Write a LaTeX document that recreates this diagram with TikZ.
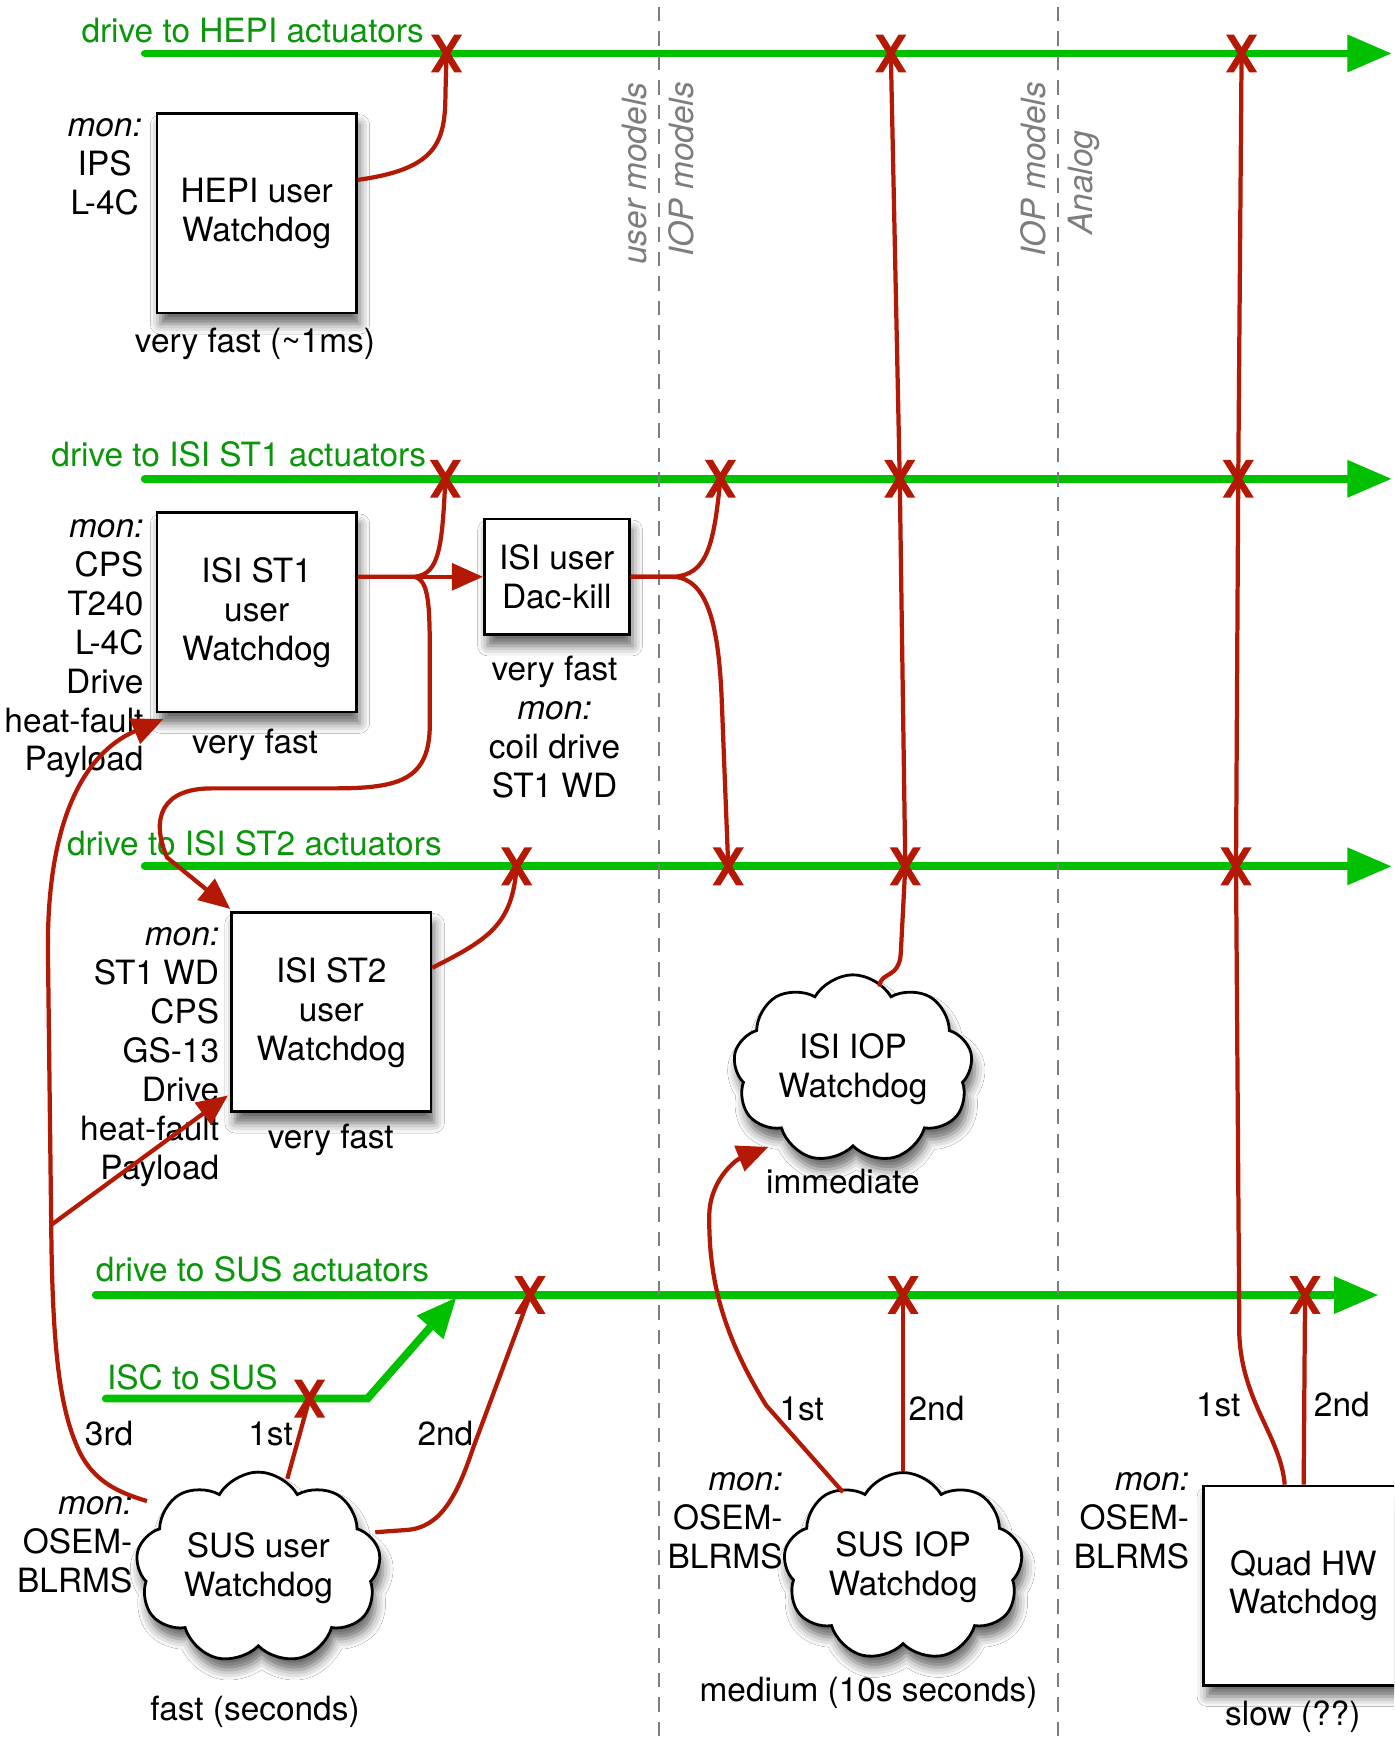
\documentclass[tikz,border=0pt]{standalone}
\usepackage{fontspec}
\setmainfont{TeX Gyre Heros}
\usetikzlibrary{shapes.symbols,shadows.blur,arrows.meta,calc}
\definecolor{grn}{RGB}{0,192,0}
\definecolor{grntext}{RGB}{10,150,10}
\definecolor{wdred}{RGB}{180,25,5}
\definecolor{divgray}{RGB}{125,125,125}
\begin{document}
\begin{tikzpicture}[x=1pt,y=-1pt,
  txt/.style={font=\fontsize{30}{35}\selectfont, inner sep=0pt, text=black},
  grtxt/.style={txt, text=grntext, anchor=base west},
  divtxt/.style={font=\fontsize{30}{35}\selectfont\itshape, inner sep=0pt, text=divgray, rotate=90},
  wdshadow/.style={blur shadow={shadow xshift=3pt, shadow yshift=-10pt, shadow blur radius=9pt, shadow opacity=60}},
  wdbox/.style={txt, draw=black, line width=2.5pt, fill=white, minimum width=179pt, minimum height=179pt, align=center, wdshadow},
  wdcloud/.style={txt, cloud, cloud puffs=9, cloud puff arc=120, aspect=1.35, draw=black, line width=2.5pt, fill=white, align=center, minimum width=215pt, minimum height=158pt, wdshadow},
  greenl/.style={grn, line width=7pt, line cap=round},
  greenarrow/.style={-{Triangle[length=40pt,width=32pt]}},
  redl/.style={wdred, line width=3.8pt},
  redarrow/.style={-{Triangle[length=28pt,width=24pt]}},
  divline/.style={divgray, line width=2pt, dash pattern=on 13pt off 9pt},
  xm/.pic={\fill[wdred] (-14,-17)--(-7,-17)--(14,17)--(7,17)--cycle;
           \fill[wdred] (7,-17)--(14,-17)--(-7,17)--(-14,17)--cycle;}
]
\fill[white] (0,0) rectangle (1252,1568);
\path[use as bounding box] (0,0) rectangle (1252,1568);
\clip (0,0) rectangle (1252,1568);

% green actuator lines
\coordinate (hS) at (130,48);   \coordinate (hE) at (1250,48);
\coordinate (s1S) at (130,430); \coordinate (s1E) at (1250,430);
\coordinate (s2S) at (130,778); \coordinate (s2E) at (1250,778);
\coordinate (suS) at (86,1163); \coordinate (suE) at (1238,1163);
\coordinate (iscS) at (95,1256); \coordinate (iscK) at (330,1256); \coordinate (iscE) at (410,1165);
\draw[greenl, greenarrow] (hS) -- (hE);
\draw[greenl, greenarrow] (s1S) -- (s1E);
\draw[greenl, greenarrow] (s2S) -- (s2E);
\draw[greenl, greenarrow] (suS) -- (suE);
\draw[greenl, line join=miter, -{Triangle[length=36pt,width=30pt]}] (iscS) -- (iscK) -- (iscE);

% dividers
\coordinate (d1t) at (592,6); \coordinate (d1b) at (592,1568);
\coordinate (d2t) at (950,6); \coordinate (d2b) at (950,1568);
\draw[divline] (d1t) -- (d1b);
\draw[divline] (d2t) -- (d2b);
\node[divtxt] (lum) at (570,156) {user models};
\node[divtxt] (liop1) at (612,152) {IOP models};
\node[divtxt] (liop2) at (928,152) {IOP models};
\node[divtxt] (lan) at (973,164) {Analog};

% green labels
\node[grtxt] (lhepi) at (73,38) {drive to HEPI actuators};
\node[grtxt] (lst1) at (46,419) {drive to ISI ST1 actuators};
\node[grtxt] (lst2) at (60,768) {drive to ISI ST2 actuators};
\node[grtxt] (lsus) at (86,1151) {drive to SUS actuators};
\node[grtxt] (lisc) at (96,1248) {ISC to SUS};

% watchdog boxes and clouds
\node[wdbox] (hepi) at (230.5,191.5) {HEPI user\\Watchdog};
\node[wdbox] (st1) at (230.5,550) {ISI ST1\\user\\Watchdog};
\node[wdbox, minimum width=130pt, minimum height=104pt] (dac) at (500,518) {ISI user\\Dac-kill};
\node[wdbox] (st2) at (297.5,909) {ISI ST2\\user\\Watchdog};
\node[wdbox] (quad) at (1170.5,1424) {Quad HW\\Watchdog};
\node[wdcloud] (isiiop) at (766,960) {ISI IOP\\Watchdog};
\node[wdcloud, minimum height=172pt, minimum width=220pt] (sususer) at (232,1408) {SUS user\\Watchdog};
\node[wdcloud] (susiop) at (811,1407) {SUS IOP\\Watchdog};

% monitor lists and speed labels
\node[txt, align=center, anchor=north] (monh) at (94,106) {\itshape mon:\\IPS\\L-4C};
\node[txt, align=right, anchor=north east] (mon1) at (129,466) {\itshape mon:\\CPS\\T240\\L-4C\\Drive\\heat-fault\\Payload};
\node[txt, align=right, anchor=north east] (mon2) at (197,833) {\itshape mon:\\ST1 WD\\CPS\\GS-13\\Drive\\heat-fault\\Payload};
\node[txt, align=center, anchor=north] (mond) at (498,589) {very fast\\\itshape mon:\\coil drive\\ST1 WD};
\node[txt, align=right, anchor=north east] (mons) at (119,1344) {\itshape mon:\\OSEM-\\BLRMS};
\node[txt, align=right, anchor=north east] (moni) at (703,1322) {\itshape mon:\\OSEM-\\BLRMS};
\node[txt, align=right, anchor=north east] (monq) at (1068,1322) {\itshape mon:\\OSEM-\\BLRMS};
\node[txt, anchor=base] (sph) at (229,317) {very fast (\textasciitilde 1ms)};
\node[txt, anchor=base] (sp1) at (229,677) {very fast};
\node[txt, anchor=base] (sp2) at (297,1031) {very fast};
\node[txt, anchor=base] (spi) at (757,1072) {immediate};
\node[txt, anchor=base] (sps) at (229,1545) {fast (seconds)};
\node[txt, anchor=base] (spm) at (780,1528) {medium (10s seconds)};
\node[txt, anchor=base] (spq) at (1161,1550) {slow (??)};
\node[txt, anchor=base] (o3a) at (98,1298) {3rd};
\node[txt, anchor=base] (o1a) at (243,1298) {1st};
\node[txt, anchor=base] (o2a) at (400,1298) {2nd};
\node[txt, anchor=base] (o1b) at (720,1276) {1st};
\node[txt, anchor=base] (o2b) at (841,1276) {2nd};
\node[txt, anchor=base] (o1c) at (1094,1272) {1st};
\node[txt, anchor=base] (o2c) at (1205,1272) {2nd};

% kill points
\coordinate (xa1) at (401,48);  \coordinate (xa2) at (800,48);  \coordinate (xa3) at (1115,48);
\coordinate (xb1) at (400,430); \coordinate (xb2) at (647,430); \coordinate (xb3) at (808,430); \coordinate (xb4) at (1112,430);
\coordinate (xc1) at (464,778); \coordinate (xc2) at (654,778); \coordinate (xc3) at (813,778); \coordinate (xc4) at (1110,778);
\coordinate (xd1) at (476,1163); \coordinate (xd2) at (811,1163); \coordinate (xd3) at (1172,1163);
\coordinate (xe1) at (278,1256);

% red connectors
\draw[redl] ($(hepi.north east)!0.335!(hepi.south east)$) .. controls (390,152) and (400,130) .. (400,85) -- (xa1);
\draw[redl] ($(isiiop.center)+(24,-74)$) .. controls (790,872) and (808,880) .. (809,855) -- (xc3) -- (xb3) -- (xa2);
\draw[redl] ($(quad.north west)+(74,0)$) .. controls (1150,1290) and (1116,1260) .. (1113,1200) -- (xc4) -- (xb4) -- (xa3);
\draw[redl] ($(quad.north west)+(91,0)$) -- (xd3);
\draw[redl] (susiop.north) -- (xd2);
\draw[redl, redarrow] ($(susiop.center)+(-54,-67)$) -- (688,1262) .. controls (650,1200) and (636,1150) .. (637,1090) .. controls (638,1060) and (660,1042) .. ($(isiiop.center)+(-76,70)$);
\draw[redl] ($(sususer.center)+(26,-80)$) -- (xe1);
\draw[redl] ($(sususer.center)+(105,-32)$) -- (365,1374) .. controls (395,1372) and (410,1345) .. (425,1300) -- (xd1);
\draw[redl, redarrow] ($(sususer.center)+(-100,-60)$) .. controls (105,1340) and (85,1330) .. (72,1305) .. controls (55,1270) and (47,1220) .. (46,1100) coordinate (branch) -- (43,850) .. controls (43,720) and (85,672) .. ($(st1.south west)+(7,5)$);
\draw[redl, redarrow] (branch) -- ($(st2.south west)+(-2,-16)$);
\coordinate (j1) at (372,518);
\draw[redl] (st1.east |- dac.west) -- (j1) .. controls (395,516) and (397,490) .. (xb1);
\draw[redl, redarrow] (st1.east |- dac.west) -- (dac.west);
\draw[redl, redarrow] (j1) .. controls (386,521) and (386,545) .. (386,600) -- (386,650) .. controls (386,700) and (360,708) .. (300,708) -- (190,708) .. controls (145,708) and (135,735) .. (150,770) -- ($(st2.north west)+(0,-2)$);
\draw[redl] (dac.east) -- (605,518) .. controls (635,516) and (641,490) .. (xb2);
\draw[redl] (dac.east) -- (605,518) .. controls (635,520) and (645,560) .. (648,625) -- (xc2);
\draw[redl] ($(st2.north east)!0.28!(st2.south east)$) .. controls (440,843) and (460,830) .. (xc1);

% X marks
\foreach \p in {xa1,xa2,xa3,xb1,xb2,xb3,xb4,xc1,xc2,xc3,xc4,xd1,xd2,xd3,xe1}
  \pic at (\p) {xm};
\end{tikzpicture}
\end{document}
